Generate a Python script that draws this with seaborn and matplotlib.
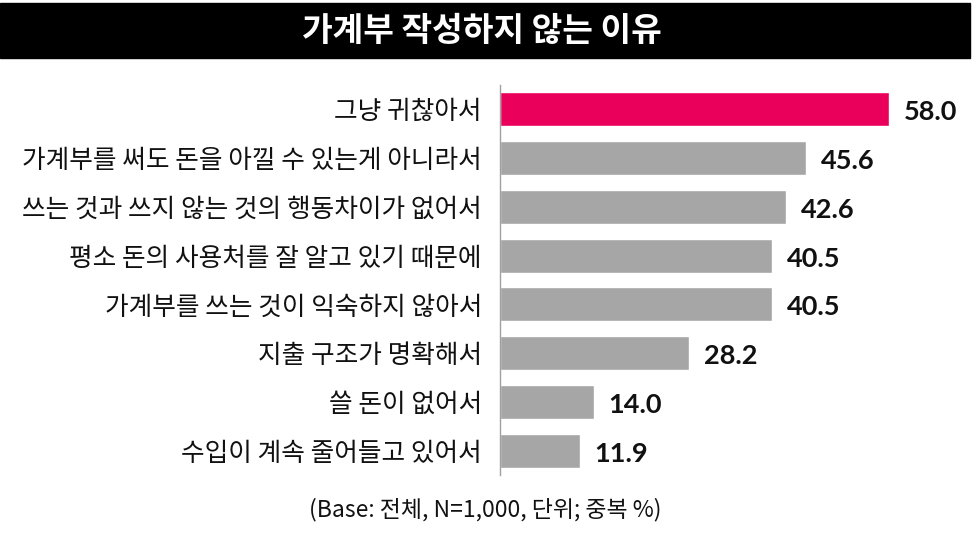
import matplotlib
matplotlib.use("Agg")
import matplotlib.pyplot as plt
import seaborn as sns
import pandas as pd

reasons = [
    "그냥 귀찮아서",
    "가계부를 써도 돈을 아낄 수 있는게 아니라서",
    "쓰는 것과 쓰지 않는 것의 행동차이가 없어서",
    "평소 돈의 사용처를 잘 알고 있기 때문에",
    "가계부를 쓰는 것이 익숙하지 않아서",
    "지출 구조가 명확해서",
    "쓸 돈이 없어서",
    "수입이 계속 줄어들고 있어서",
]
values = [58.0, 45.6, 42.6, 40.5, 40.5, 28.2, 14.0, 11.9]
title = "가계부 작성하지 않는 이유"
note = "(Base: 전체, N=1,000, 단위; 중복 %)"

sns.set_theme(style="white")
plt.rcParams["font.family"] = ["Noto Sans CJK KR", "DejaVu Sans"]

df = pd.DataFrame({"reason": reasons, "value": values})
colors = ["#EA005A"] + ["#A6A6A6"] * (len(reasons) - 1)

fig = plt.figure(figsize=(9.72, 5.39), dpi=100)
ax = fig.add_axes([500 / 972, 1 - 475 / 539, 470 / 972, 390 / 539])

sns.barplot(data=df, x="value", y="reason", hue="reason", palette=colors,
            legend=False, width=0.7, saturation=1, ax=ax)

ax.set_xlim(0, 70)
ax.set_ylim(len(reasons) - 0.5, -0.5)
ax.set_xlabel("")
ax.set_ylabel("")
ax.set_xticks([])
for s in ["top", "right", "bottom"]:
    ax.spines[s].set_visible(False)
ax.spines["left"].set_color("#A0A0A0")
ax.spines["left"].set_linewidth(1)
ax.tick_params(axis="y", length=0, pad=13, labelsize=18.5, labelcolor="#111111")
for lbl in ax.get_yticklabels():
    lbl.set_fontweight("medium")

for i, v in enumerate(values):
    ax.text(v + 2.2, i + 0.06, f"{v:.1f}", va="center", ha="left",
            fontsize=19.5, fontweight="bold", family=["Lato", "DejaVu Sans"], color="#111111")

# black title bar
fig.patches.append(plt.Rectangle((0, 1 - 58 / 539), 970 / 972, 55 / 539,
                                 transform=fig.transFigure, color="black", zorder=0))
fig.text(482 / 972, 1 - 31 / 539, title, ha="center", va="center",
         color="white", fontsize=24, fontweight="bold")

fig.text(485 / 972, 1 - 510 / 539, note, ha="center", va="center",
         fontsize=16.5, fontweight="medium", color="#111111")

fig.savefig("out.png", dpi=100)
